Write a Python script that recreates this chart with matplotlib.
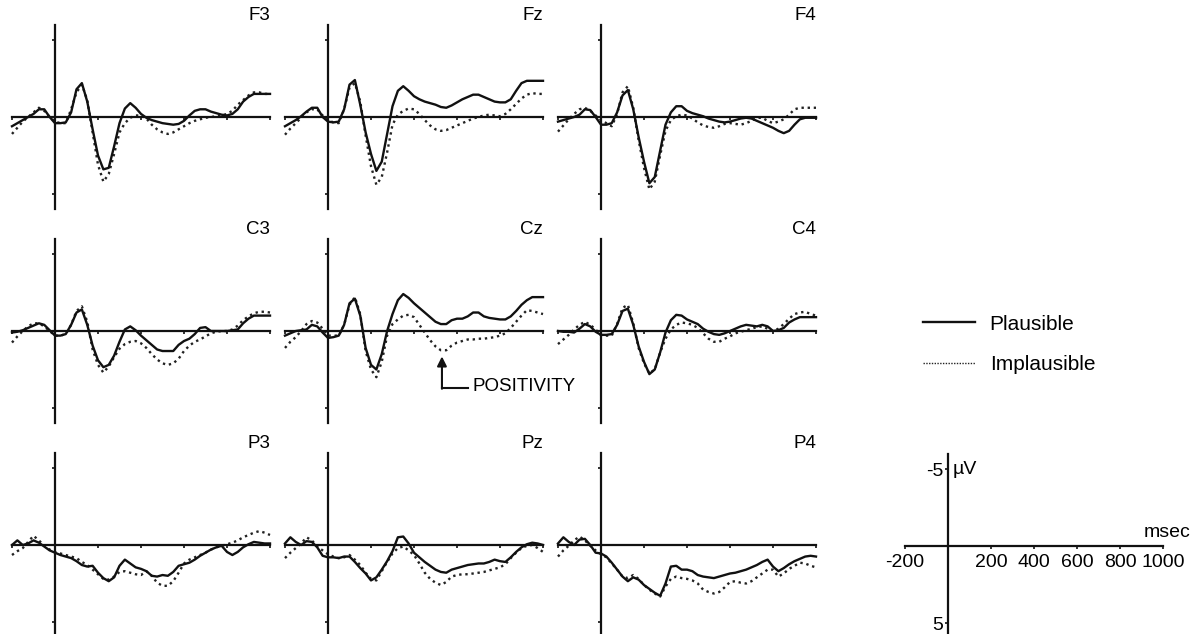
import numpy as np
import matplotlib
matplotlib.use("Agg")
import matplotlib.pyplot as plt
from matplotlib.lines import Line2D

plt.rcParams['font.family'] = ['Liberation Sans', 'DejaVu Sans']

# sample times (ms), 25 ms steps from -200 to 1000
times = np.arange(-200, 1001, 25)

# amplitudes in microvolts (negative plotted up)
f3_plausible = [0.6, 0.4, 0.2, 0.0, -0.2, -0.5, -0.5, 0.0,
                0.4, 0.4, 0.35, -0.3, -1.8, -2.2, -1.0, 0.8,
                2.5, 3.4, 3.3, 1.9, 0.4, -0.55, -0.9, -0.6,
                -0.2, 0.05, 0.2, 0.3, 0.4, 0.45, 0.5, 0.45,
                0.25, -0.1, -0.4, -0.5, -0.5, -0.35, -0.25, -0.15,
                -0.1, -0.2, -0.5, -1.0, -1.3, -1.5, -1.5, -1.5, -1.5]
f3_implausible = [1.1, 0.7, 0.3, 0.0, -0.3, -0.6, -0.4, 0.0,
                  0.3, 0.4, 0.4, -0.5, -1.6, -2.1, -1.1, 1.0,
                  3.1, 4.2, 3.7, 2.4, 1.0, 0.4, 0.05, -0.1,
                  -0.1, 0.1, 0.5, 0.8, 1.0, 1.1, 1.0, 0.8,
                  0.6, 0.4, 0.25, 0.15, 0.05, 0.0, -0.05, -0.1,
                  -0.2, -0.4, -0.8, -1.1, -1.4, -1.6, -1.6, -1.5, -1.5]

fz_plausible = [0.6, 0.4, 0.2, -0.05, -0.35, -0.6, -0.6, 0.0,
                0.3, 0.35, 0.3, -0.5, -2.1, -2.4, -0.8, 1.0,
                2.4, 3.5, 2.9, 1.1, -0.7, -1.7, -2.0, -1.7,
                -1.35, -1.15, -1.0, -0.9, -0.8, -0.65, -0.6, -0.75,
                -0.95, -1.15, -1.3, -1.45, -1.45, -1.3, -1.15, -1.0,
                -0.95, -0.95, -1.15, -1.7, -2.2, -2.35, -2.35, -2.35, -2.35]
fz_implausible = [1.15, 0.75, 0.4, 0.05, -0.3, -0.5, -0.5, -0.1,
                  0.2, 0.35, 0.4, -0.5, -1.9, -2.2, -1.0, 1.2,
                  3.2, 4.4, 3.9, 2.3, 0.5, -0.15, -0.4, -0.55,
                  -0.5, -0.2, 0.2, 0.55, 0.8, 0.9, 0.85, 0.7,
                  0.55, 0.4, 0.25, 0.1, 0.0, -0.1, -0.15, -0.1,
                  -0.05, -0.2, -0.5, -0.85, -1.2, -1.45, -1.55, -1.5, -1.5]

f4_plausible = [0.3, 0.2, 0.1, 0.0, -0.15, -0.5, -0.45, 0.0,
                0.5, 0.5, 0.4, -0.3, -1.4, -1.75, -0.5, 1.3,
                2.9, 4.3, 3.9, 2.2, 0.5, -0.3, -0.7, -0.7,
                -0.4, -0.25, -0.15, -0.05, 0.1, 0.2, 0.3, 0.35,
                0.3, 0.2, 0.1, 0.05, 0.1, 0.25, 0.4, 0.55,
                0.7, 0.9, 1.05, 0.9, 0.5, 0.15, 0.05, 0.05, 0.05]
f4_implausible = [0.95, 0.55, 0.15, -0.2, -0.5, -0.6, -0.4, -0.1,
                  0.2, 0.4, 0.6, -0.2, -1.6, -2.0, -0.6, 1.5,
                  3.3, 4.7, 4.2, 2.5, 0.9, 0.2, -0.05, -0.15,
                  -0.1, 0.1, 0.35, 0.55, 0.65, 0.7, 0.6, 0.45,
                  0.4, 0.45, 0.5, 0.4, 0.25, 0.05, 0.05, 0.25,
                  0.4, 0.3, 0.15, -0.15, -0.5, -0.6, -0.6, -0.6, -0.6]

c3_plausible = [0.1, 0.05, -0.05, -0.2, -0.35, -0.5, -0.4, -0.05,
                0.3, 0.3, 0.2, -0.4, -1.2, -1.4, -0.4, 0.95,
                1.9, 2.35, 2.2, 1.6, 0.7, -0.1, -0.3, -0.05,
                0.3, 0.6, 0.9, 1.2, 1.3, 1.3, 1.3, 0.9,
                0.65, 0.5, 0.2, -0.2, -0.25, 0.0, 0.0, 0.0,
                0.0, -0.05, -0.1, -0.5, -0.8, -1.0, -1.0, -1.0, -1.0]
c3_implausible = [0.75, 0.35, 0.0, -0.3, -0.5, -0.5, -0.3, 0.0,
                  0.3, 0.3, 0.2, -0.4, -1.3, -1.6, -0.6, 1.2,
                  2.2, 2.7, 2.3, 1.7, 1.15, 0.85, 0.7, 0.65,
                  0.8, 1.1, 1.5, 1.85, 2.1, 2.2, 2.1, 1.8,
                  1.3, 0.95, 0.7, 0.55, 0.35, 0.15, 0.05, 0.0,
                  0.0, -0.1, -0.35, -0.7, -0.95, -1.15, -1.25, -1.25, -1.2]

cz_plausible = [0.3, 0.15, 0.0, -0.05, -0.1, -0.4, -0.3, 0.1,
                0.45, 0.4, 0.3, -0.4, -1.8, -2.1, -1.0, 1.1,
                2.2, 2.5, 1.5, 0.0, -1.1, -2.0, -2.4, -2.15,
                -1.8, -1.5, -1.2, -0.9, -0.6, -0.45, -0.45, -0.7,
                -0.8, -0.8, -0.95, -1.2, -1.2, -0.95, -0.85, -0.8,
                -0.75, -0.75, -0.95, -1.3, -1.7, -2.0, -2.2, -2.2, -2.2]
cz_implausible = [1.1, 0.7, 0.4, 0.0, -0.45, -0.65, -0.55, -0.15,
                  0.3, 0.3, 0.3, -0.4, -1.7, -2.2, -1.1, 1.3,
                  2.5, 3.0, 2.0, 0.3, -0.45, -0.75, -1.0, -1.05,
                  -0.9, -0.4, 0.1, 0.6, 1.0, 1.25, 1.25, 0.95,
                  0.75, 0.65, 0.55, 0.55, 0.5, 0.5, 0.45, 0.4,
                  0.3, 0.15, -0.2, -0.6, -1.0, -1.35, -1.3, -1.2, -1.1]

c4_plausible = [0.0, 0.05, 0.05, 0.1, -0.15, -0.45, -0.3, 0.05,
                0.25, 0.25, 0.2, -0.4, -1.3, -1.45, -0.4, 1.0,
                2.0, 2.8, 2.5, 1.4, 0.1, -0.7, -1.05, -1.0,
                -0.75, -0.6, -0.45, -0.15, 0.05, 0.2, 0.25, 0.15,
                0.0, -0.15, -0.3, -0.4, -0.35, -0.3, -0.4, -0.3,
                0.0, -0.05, -0.2, -0.55, -0.75, -0.9, -0.9, -0.9, -0.9]
c4_implausible = [0.85, 0.55, 0.25, -0.1, -0.4, -0.6, -0.4, -0.1,
                  0.3, 0.3, 0.3, -0.45, -1.5, -1.7, -0.5, 1.1,
                  2.1, 2.75, 2.5, 1.4, 0.5, -0.1, -0.4, -0.55,
                  -0.5, -0.4, -0.2, 0.15, 0.5, 0.7, 0.7, 0.5,
                  0.35, 0.15, 0.05, -0.05, -0.15, -0.25, -0.3, -0.15,
                  0.0, -0.15, -0.45, -0.8, -1.1, -1.2, -1.25, -1.1, -1.0]

p3_plausible = [0.0, -0.3, 0.0, -0.1, -0.3, -0.15, 0.1, 0.35,
                0.5, 0.65, 0.75, 0.85, 1.05, 1.3, 1.4, 1.35,
                1.8, 2.15, 2.35, 2.1, 1.35, 0.95, 1.2, 1.45,
                1.55, 1.7, 2.0, 2.05, 1.95, 2.0, 1.75, 1.35,
                1.25, 1.15, 0.95, 0.7, 0.5, 0.3, 0.15, 0.05,
                0.45, 0.65, 0.45, 0.15, -0.05, -0.2, -0.15, -0.1, -0.1]
p3_implausible = [0.65, 0.4, 0.2, -0.2, -0.6, -0.3, 0.05, 0.3,
                  0.45, 0.55, 0.65, 0.75, 0.85, 1.1, 1.3, 1.6,
                  1.9, 2.2, 2.25, 2.05, 1.75, 1.7, 1.8, 1.9,
                  1.95, 1.7, 2.0, 2.45, 2.65, 2.65, 2.35, 1.8,
                  1.2, 0.95, 0.8, 0.65, 0.5, 0.3, 0.15, 0.05,
                  -0.05, -0.15, -0.3, -0.5, -0.65, -0.8, -0.9, -0.8, -0.65]

pz_plausible = [-0.1, -0.5, -0.2, 0.0, -0.25, -0.2, 0.15, 0.7,
                0.8, 0.8, 0.85, 0.75, 0.75, 1.1, 1.5, 1.85,
                2.3, 2.1, 1.6, 1.05, 0.4, -0.5, -0.55, -0.1,
                0.5, 0.8, 1.1, 1.35, 1.6, 1.75, 1.8, 1.6,
                1.5, 1.4, 1.3, 1.25, 1.2, 1.2, 1.1, 0.95,
                1.05, 1.1, 0.8, 0.45, 0.15, -0.05, -0.15, -0.1, 0.0]
pz_implausible = [0.85, 0.5, 0.2, -0.1, -0.5, -0.3, 0.1, 0.35,
                  0.6, 0.75, 0.85, 0.8, 0.65, 0.95, 1.3, 1.8,
                  2.2, 2.3, 1.7, 1.1, 0.55, 0.2, 0.1, 0.35,
                  0.65, 1.2, 1.8, 2.2, 2.45, 2.6, 2.4, 2.05,
                  1.95, 1.9, 1.9, 1.85, 1.8, 1.75, 1.65, 1.55,
                  1.45, 1.25, 0.85, 0.5, 0.2, 0.05, 0.0, 0.2, 0.45]

p4_plausible = [-0.1, -0.5, -0.2, 0.0, -0.35, -0.4, 0.0, 0.5,
                0.55, 0.75, 1.15, 1.6, 2.05, 2.35, 2.1, 2.25,
                2.6, 2.85, 3.1, 3.3, 2.5, 1.4, 1.35, 1.6,
                1.6, 1.7, 1.95, 2.05, 2.1, 2.15, 2.05, 1.95,
                1.85, 1.8, 1.7, 1.6, 1.45, 1.3, 1.1, 0.95,
                1.4, 1.7, 1.5, 1.25, 1.05, 0.9, 0.75, 0.7, 0.75]
p4_implausible = [0.75, 0.35, 0.05, -0.3, -0.55, -0.3, 0.05, 0.35,
                  0.6, 0.8, 1.2, 1.6, 2.05, 2.15, 1.95, 2.2,
                  2.6, 2.9, 3.15, 3.35, 2.7, 2.2, 2.05, 2.15,
                  2.2, 2.3, 2.5, 2.9, 3.05, 3.15, 3.05, 2.75,
                  2.4, 2.35, 2.45, 2.5, 2.35, 2.1, 1.85, 1.6,
                  1.6, 2.05, 1.85, 1.55, 1.35, 1.15, 1.2, 1.35, 1.45]

sites = ["F3", "Fz", "F4", "C3", "Cz", "C4", "P3", "Pz", "P4"]
plausible = [f3_plausible, fz_plausible, f4_plausible,
             c3_plausible, cz_plausible, c4_plausible,
             p3_plausible, pz_plausible, p4_plausible]
implausible = [f3_implausible, fz_implausible, f4_implausible,
               c3_implausible, cz_implausible, c4_implausible,
               p3_implausible, pz_implausible, p4_implausible]

W, H = 1195, 634
PX_MS = 43 / 200.0   # pixels per ms
PX_UV = 15.4         # pixels per microvolt

fig = plt.figure(figsize=(W / 100, H / 100), dpi=100)


def make_axes(x0, y0):
    # x0, y0: pixel position of (0 ms, 0 uV), y measured from top
    left = x0 - 200 * PX_MS
    rect = [left / W, (H - (y0 + 6 * PX_UV)) / H, 1200 * PX_MS / W, 12 * PX_UV / H]
    ax = fig.add_axes(rect)
    ax.set_xlim(-200, 1000)
    ax.set_ylim(6, -6)
    ax.patch.set_visible(False)
    for s in ("top", "right"):
        ax.spines[s].set_visible(False)
    ax.spines["left"].set_position(("data", 0))
    ax.spines["bottom"].set_position(("data", 0))
    for s in ("left", "bottom"):
        ax.spines[s].set_linewidth(1.6)
        ax.spines[s].set_color("#111111")
    ax.set_xticks([-200, 200, 400, 600, 800, 1000])
    ax.set_yticks([-5, 5])
    ax.tick_params(direction="out", length=2.5, width=1.2, color="#111111")
    return ax


col_x = [55, 328, 601]
row_y = [117, 331, 545]

for i, site in enumerate(sites):
    r, c = divmod(i, 3)
    ax = make_axes(col_x[c], row_y[r])
    ax.set_xticklabels([])
    ax.set_yticklabels([])
    ax.plot(times, implausible[i], color="#222222", lw=1.7,
            linestyle=(0, (1, 1.6)), clip_on=False)
    ax.plot(times, plausible[i], color="#111111", lw=1.7,
            solid_joinstyle="round", clip_on=False)
    ax.text(1000, -6.6, site, ha="right", va="center", fontsize=13.5)
    if site == "Cz":
        ax.annotate("", xy=(530, 1.65), xytext=(530, 3.75),
                    arrowprops=dict(arrowstyle="-|>", lw=1.5, color="#111111",
                                    mutation_scale=14, shrinkA=0, shrinkB=0))
        ax.plot([530, 650], [3.7, 3.7], color="#111111", lw=1.5)
        ax.text(672, 3.6, "POSITIVITY", ha="left", va="center", fontsize=13.5)

# calibration axes
sc = make_axes(948, 546)
sc.set_xticklabels(["-200", "200", "400", "600", "800", "1000"], fontsize=14)
sc.set_yticklabels(["-5", "5"], fontsize=14)
sc.tick_params(axis="y", pad=1)
sc.tick_params(axis="x", pad=3)
sc.text(20, -5, "\u00b5V", ha="left", va="center", fontsize=14)
sc.text(1020, -0.9, "msec", ha="center", va="center", fontsize=14)

handles = [Line2D([], [], color="#111111", lw=1.7),
           Line2D([], [], color="#222222", lw=1.0, linestyle=(0, (1, 1)))]
fig.legend(handles, ["Plausible", "Implausible"], loc="center left",
           bbox_to_anchor=(923 / W, 1 - 344.5 / H), frameon=False,
           fontsize=15, handlelength=2.5, handletextpad=0.7,
           labelspacing=1.05, borderpad=0, borderaxespad=0)

fig.savefig("out.png", dpi=100)
